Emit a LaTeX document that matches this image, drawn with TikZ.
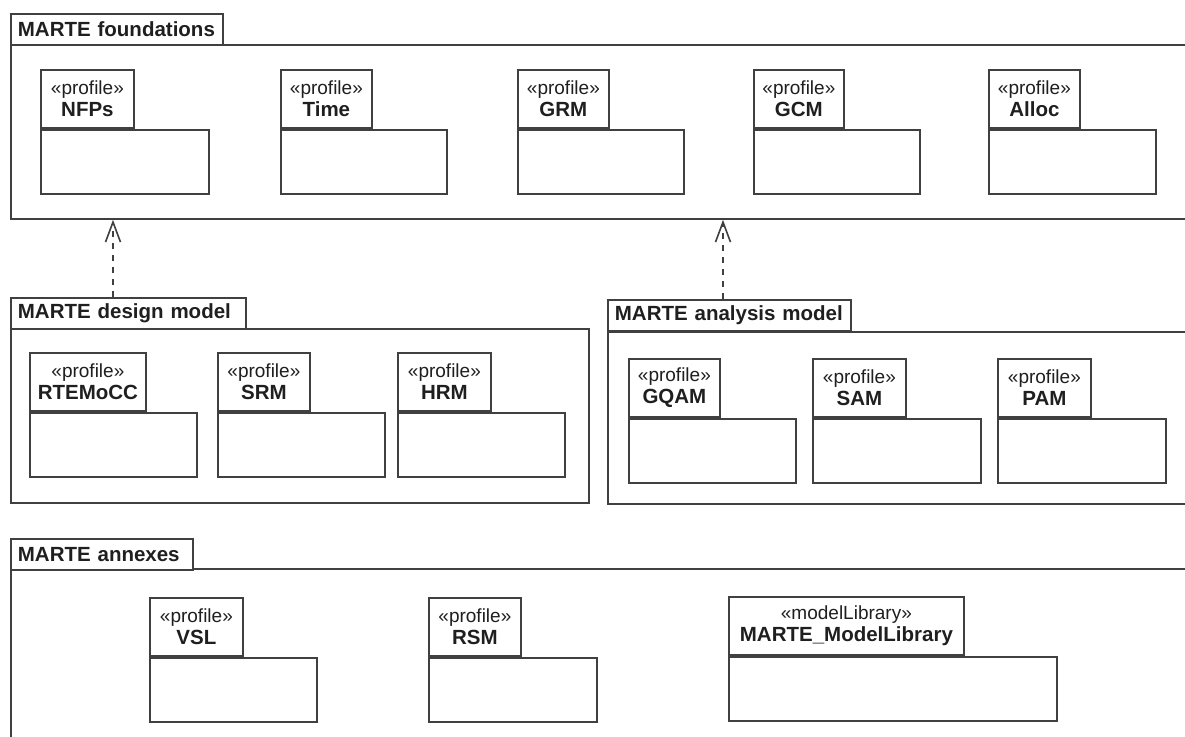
\documentclass[tikz,border=0pt]{standalone}
\usepackage{fontspec}
\setmainfont{Liberation Sans}
\usetikzlibrary{arrows.meta}
\tikzset{
  ln/.style={draw=black!75, line width=1.8pt},
  ctab/.style={ln, fill=white, anchor=north west, minimum height=31pt, inner sep=0pt, text=black!88,
    font=\fontsize{20.5}{24}\selectfont\bfseries},
  cbody/.style={ln, anchor=north west, inner sep=0pt},
  ptab/.style={ln, fill=white, anchor=north west, minimum height=58pt, inner sep=0pt, align=center, text=black!88,
    font=\fontsize{20}{23}\selectfont},
  pbody/.style={ln, anchor=north west, minimum height=64pt, inner sep=0pt},
  dep/.style={draw=black!75, line width=1.6pt, dash pattern=on 6pt off 6pt,
    -{Straight Barb[length=20pt,width=15pt,line width=1.6pt]}},
}
\newcommand\stereo[1]{{\fontsize{19}{23}\selectfont\guillemotleft#1\guillemotright}}
\newcommand\pname[1]{{\fontsize{20.5}{23}\selectfont\bfseries #1}}
% \mpkg{name}{x}{y}{tabw}{bodyw}{stereo}{label}
\newcommand\mpkg[7]{%
  \node[ptab, minimum width=#4pt] (#1T) at (#2,#3) {\stereo{#6}\\[-1pt]\pname{#7}};
  \node[pbody, minimum width=#5pt] (#1B) at (#1T.south west) {};
}
\begin{document}
\begin{tikzpicture}[x=1pt,y=-1pt]
\useasboundingbox (0,0) rectangle (1185,736);
\clip (0,0) rectangle (1185,736);
\fill[white] (0,0) rectangle (1185,736);

% MARTE foundations
\node[cbody, minimum width=1200pt, minimum height=174pt] (fB) at (10,44) {};
\node[ctab, minimum width=212pt, text width=198pt] (fT) at (10,13) {MARTE foundations};
\mpkg{nfp}{40}{69}{93}{168}{profile}{NFPs}
\mpkg{time}{280}{69}{91}{166}{profile}{Time}
\mpkg{grm}{517}{69}{91}{166}{profile}{GRM}
\mpkg{gcm}{753}{69}{90}{166}{profile}{GCM}
\mpkg{alloc}{988}{69}{91}{167}{profile}{Alloc}

% MARTE design model
\node[cbody, minimum width=578pt, minimum height=174pt] (dB) at (10,328) {};
\node[ctab, minimum width=235pt, text width=221pt] (dT) at (10,297) {MARTE design model};
\mpkg{rte}{29}{352}{116}{167}{profile}{RTEMoCC}
\mpkg{srm}{217}{352}{92}{167}{profile}{SRM}
\mpkg{hrm}{397}{352}{93}{167}{profile}{HRM}

% MARTE analysis model
\node[cbody, minimum width=600pt, minimum height=172pt] (aB) at (607,331) {};
\node[ctab, minimum width=243pt, text width=229pt] (aT) at (607,299) {MARTE analysis model};
\mpkg{gqam}{628}{358}{91}{167}{profile}{GQAM}
\mpkg{sam}{812}{358}{93}{168}{profile}{SAM}
\mpkg{pam}{997}{358}{93}{168}{profile}{PAM}

% MARTE annexes
\node[cbody, minimum width=1200pt, minimum height=200pt] (xB) at (10,568) {};
\node[ctab, minimum width=182pt, text width=168pt] (xT) at (10,538) {MARTE annexes};
\mpkg{vsl}{149}{597}{93}{167}{profile}{VSL}
\mpkg{rsm}{428}{597}{92}{168}{profile}{RSM}
\mpkg{lib}{728}{596}{235}{328}{modelLibrary}{MARTE\_ModelLibrary}

% dependencies
\draw[dep] ([xshift=103pt]dT.north west) -- ([xshift=103pt]dT.north west |- fB.south);
\draw[dep] ([xshift=116pt]aT.north west) -- ([xshift=116pt]aT.north west |- fB.south);
\end{tikzpicture}
\end{document}
